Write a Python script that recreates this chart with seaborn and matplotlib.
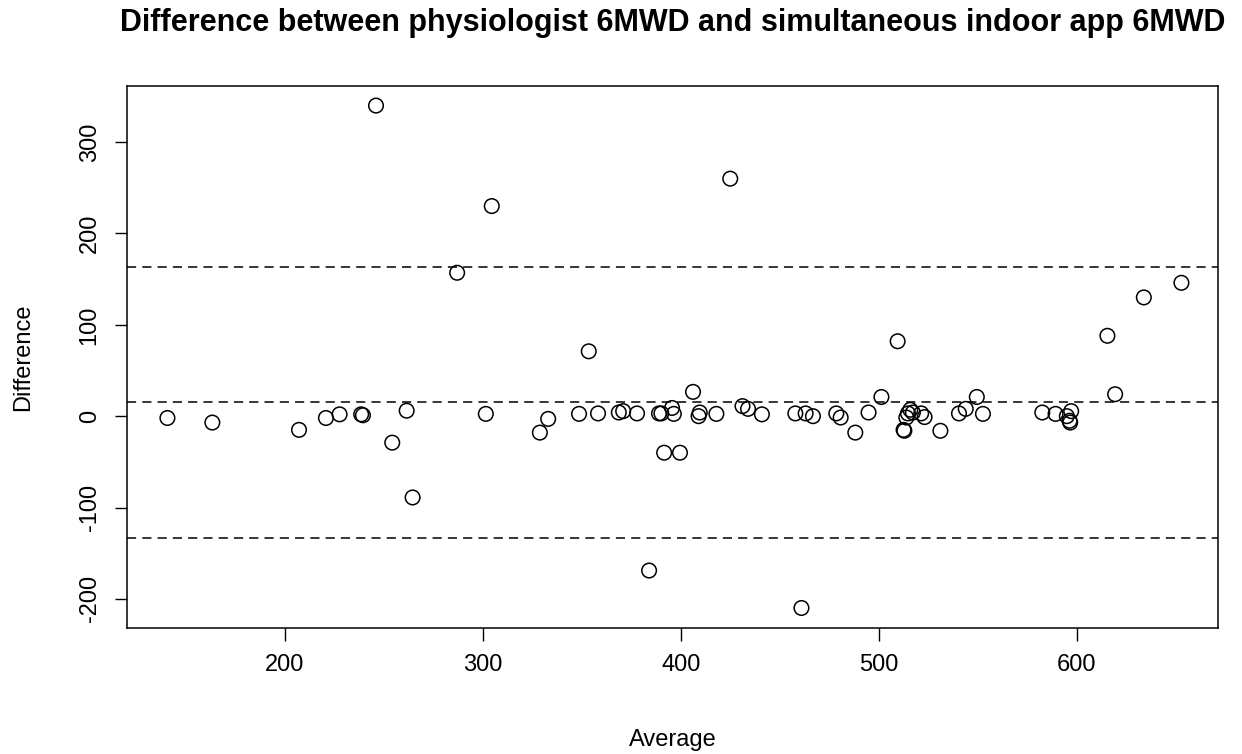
import pandas as pd
import matplotlib
matplotlib.use("Agg")
import matplotlib.pyplot as plt
import seaborn as sns

# Mittelwert der beiden Messungen (x) und Differenz (y)
average = [140.6, 163.3, 207.1, 220.7, 227.6, 238.5, 239.4, 254.2, 261.5, 264.5,
           301.5, 328.8, 333.0, 348.6, 358.2, 368.7, 370.9, 377.9, 389.0, 390.2,
           395.6, 396.5, 406.2, 409.6, 409.0, 418.0, 391.6, 399.6,
           431.2, 434.0, 441.0, 457.9, 463.1, 466.8, 478.6, 480.8, 488.2, 494.9,
           501.4, 512.6, 513.0, 514.0, 514.8, 516.0, 517.3, 521.5, 523.2, 531.2,
           540.6, 544.0, 549.6, 552.7,
           582.7, 589.4, 595.1, 597.3, 596.5, 596.8, 619.5,
           246.0, 304.5, 287.0, 425.0, 353.5, 509.6, 384.0, 461.0, 615.6, 634.0, 653.0]
difference = [-2, -7, -15, -2, 2, 2, 1, -29, 6, -89,
              2.5, -18, -3, 2.5, 3, 4, 5.5, 3, 3, 3,
              9, 2.5, 26.6, 4, 0, 2.5, -40, -40,
              11, 8, 2, 3, 3, 0, 3, -1.5, -18, 4,
              21, -15, -16, -1.5, 3, 7, 4, 3, -1, -16,
              3, 8, 21, 2.5,
              4, 2.5, 0, 5.5, -5, -7, 24,
              340, 230, 157, 260, 71, 82, -169, -210, 88, 130, 146]

# Mittlere Differenz und Übereinstimmungsgrenzen
mean_diff = 15
limits = [-133, 163]

df = pd.DataFrame({"Average": average, "Difference": difference})

sns.set_style("white")
plt.rcParams["font.family"] = ["Liberation Sans", "DejaVu Sans"]
plt.rcParams["axes.unicode_minus"] = False
for key in ["text.color", "axes.labelcolor", "xtick.color", "ytick.color"]:
    plt.rcParams[key] = "black"

fig = plt.figure(figsize=(12.42, 7.54), dpi=100)
ax = fig.add_axes([0.1023, 0.167, 0.8784, 0.719])

sns.scatterplot(data=df, x="Average", y="Difference", ax=ax,
                marker="o", s=110, facecolor="none", edgecolor="black",
                linewidth=1.1)

for v in [limits[1], mean_diff, limits[0]]:
    ax.axhline(v, color="black", linestyle=(0, (6, 4)), linewidth=1.1)

ax.set_xlim(120.2, 671.5)
ax.set_ylim(-232, 361.5)
ax.set_xticks([200, 300, 400, 500, 600])
ax.set_yticks([-200, -100, 0, 100, 200, 300])

for s in ax.spines.values():
    s.set_visible(True)
    s.set_color("black")
    s.set_linewidth(1.1)

ax.tick_params(axis="both", direction="out", length=9, width=1.0,
               color="black", labelsize=17, pad=10, bottom=True, left=True)
for lab in ax.get_yticklabels():
    lab.set_rotation(90)
    lab.set_va("center")

ax.set_xlabel("Average", fontsize=17, labelpad=38)
ax.set_ylabel("Difference", fontsize=17, labelpad=32)
fig.suptitle("Difference between physiologist 6MWD and simultaneous indoor app 6MWD",
             x=0.5415, y=0.99, fontsize=22, fontweight="bold")

fig.savefig("out.png", dpi=100)
